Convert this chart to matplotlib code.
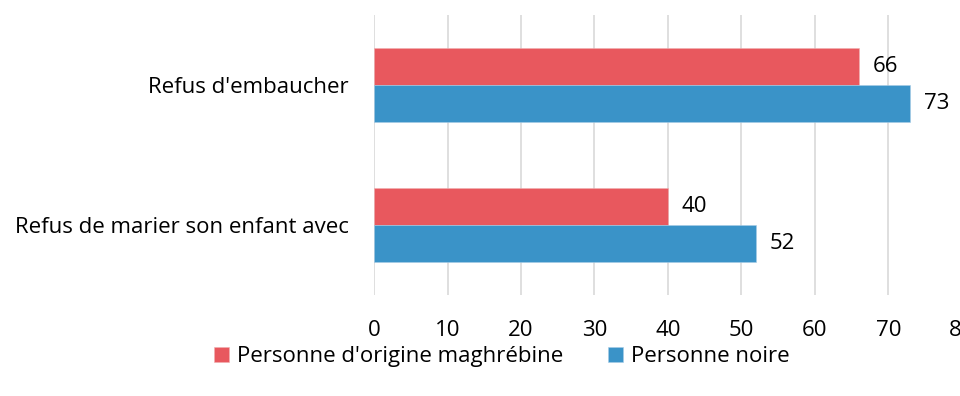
import numpy as np
import matplotlib.pyplot as plt

plt.rcParams['font.family'] = ['Open Sans', 'DejaVu Sans']

categories = ["Refus d'embaucher", "Refus de marier son enfant avec"]
series_names = ["Personne d'origine maghrébine", "Personne noire"]
maghrebine = [66, 40]
noire = [73, 52]
colors = ["#E8585E", "#3A93C8"]
xticks = [0, 10, 20, 30, 40, 50, 60, 70, 80]

fs = 16

fig = plt.figure(figsize=(9.6, 3.96), dpi=100)
ax = fig.add_axes([0.3896, 0.255, 0.6124, 0.707])

y = np.arange(len(categories))
h = 0.265
bars1 = ax.barh(y - h / 2, maghrebine, height=h, color=colors[0], label=series_names[0],
                edgecolor="#f0b0b0", linewidth=0.4)
bars2 = ax.barh(y + h / 2, noire, height=h, color=colors[1], label=series_names[1],
                edgecolor="#a8cde6", linewidth=0.4)

# value labels just right of each bar
for bars, vals in ((bars1, maghrebine), (bars2, noire)):
    for b, v in zip(bars, vals):
        ax.annotate(str(v), (v, b.get_y() + b.get_height() / 2), xytext=(10, 0),
                    textcoords="offset points", va="center", ha="left", fontsize=fs)

ax.set_ylim(1.5, -0.5)
ax.set_xlim(0, 80)
ax.set_yticks(y)
ax.set_yticklabels(categories, fontsize=fs)
ax.set_xticks(xticks)
ax.set_xticklabels([str(t) for t in xticks], fontsize=fs)
ax.tick_params(length=0)
ax.tick_params(axis="y", pad=18)
ax.tick_params(axis="x", pad=18)
ax.grid(axis="x", color="#d9d9d9", linewidth=1.2)
ax.set_axisbelow(True)
for s in ax.spines.values():
    s.set_visible(False)

fig.legend(handles=[bars1, bars2], labels=series_names, loc="center", bbox_to_anchor=(0.523, 0.1),
           ncol=2, frameon=False, fontsize=fs, handlelength=0.65, handleheight=0.65,
           handletextpad=0.4, columnspacing=2.0)

fig.savefig("out.png", dpi=100)
